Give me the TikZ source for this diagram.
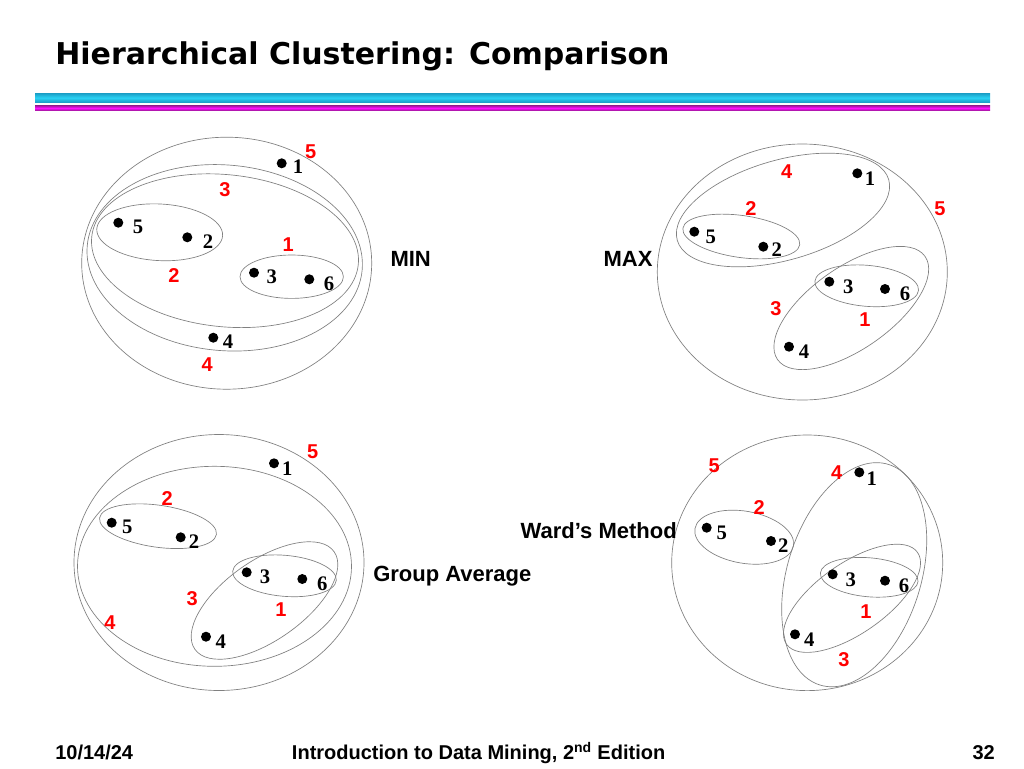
\documentclass[tikz,border=0pt]{standalone}
\usepackage{fontspec}
\setmainfont{Liberation Sans}
\newfontfamily\titlefont{DejaVu Sans}
\newfontfamily\ptfont{Liberation Serif}
\definecolor{barcyan}{HTML}{1A9CC4}
\definecolor{barcyanhi}{HTML}{2AD2F4}
\definecolor{barmag}{HTML}{A0189C}
\definecolor{barmaghi}{HTML}{FF10FF}
\tikzset{
  clus/.style={draw=black!50, line width=0.5pt},
  dot/.style={circle, fill=black, inner sep=0pt, minimum size=7.5pt},
  ptlab/.style={font=\ptfont\bfseries\fontsize{15.5}{16}\selectfont, inner sep=0pt},
  ordlab/.style={text=red, font=\bfseries\fontsize{15}{16}\selectfont, inner sep=0pt},
  method/.style={font=\bfseries\fontsize{16.5}{18}\selectfont, inner sep=0pt},
  foot/.style={font=\bfseries\fontsize{15}{16}\selectfont, inner sep=0pt}
}

\begin{document}
\begin{tikzpicture}[x=0.75pt, y=-0.75pt]
\useasboundingbox (0,0) rectangle (1024,768);
\fill[white] (0,0) rectangle (1024,768);
% title and bars
\node[anchor=base west, inner sep=0pt, font=\titlefont\bfseries\fontsize{22.5}{24}\selectfont] (title) at (55,64) {Hierarchical Clustering: Comparison};
\shade[top color=barcyan, bottom color=barcyan, middle color=barcyanhi] (35,93) rectangle (990,102.5);
\shade[top color=barmag, bottom color=barmag, middle color=barmaghi] (35,105.5) rectangle (990,110.5);

% MIN
\draw[clus, rotate around={-3:(159.7,232.3)}] (159.7,232.3) ellipse (63 and 28.3);
\draw[clus] (291.7,276.7) ellipse (51.7 and 21.7);
\draw[clus, rotate around={-6:(225,250.7)}] (225,250.7) ellipse (134 and 76);
\draw[clus, rotate around={-5:(224.7,257.8)}] (224.7,257.8) ellipse (138 and 92.8);
\draw[clus] (226.7,263.2) ellipse (145 and 126);
\node[dot] (a1) at (281.7,163.3) {};
\node[dot] (a5) at (118.3,222.7) {};
\node[dot] (a2) at (187.3,237.3) {};
\node[dot] (a3) at (254,272.7) {};
\node[dot] (a6) at (309.3,279.3) {};
\node[dot] (a4) at (213.3,337.7) {};
\node[ptlab] (a1l) at (298,167) {1};
\node[ptlab] (a5l) at (138,227) {5};
\node[ptlab] (a2l) at (208,242) {2};
\node[ptlab] (a3l) at (271.7,276.7) {3};
\node[ptlab] (a6l) at (329,284) {6};
\node[ptlab] (a4l) at (228,341.7) {4};
\node[ordlab] (ao5) at (310.7,151.7) {5};
\node[ordlab] (ao3) at (225,189.3) {3};
\node[ordlab] (ao1) at (288.3,245) {1};
\node[ordlab] (ao2) at (174,275.7) {2};
\node[ordlab] (ao4) at (207.3,365) {4};
\node[method, anchor=base] (minlab) at (410.7,266.7) {MIN};

% MAX
\draw[clus, rotate around={-8:(741.3,236.5)}] (741.3,236.5) ellipse (59 and 21);
\draw[clus, rotate around={16:(783,210)}] (783,210) ellipse (110 and 50);
\draw[clus, rotate around={-5:(866.7,285.8)}] (866.7,285.8) ellipse (52 and 20.5);
\draw[clus, rotate around={35:(851.3,308)}] (851.3,308) ellipse (90 and 41);
\draw[clus] (802.3,272) ellipse (145 and 128);
\node[dot] (b1) at (857.3,173.3) {};
\node[dot] (b5) at (694.3,231.7) {};
\node[dot] (b2) at (763.3,246.7) {};
\node[dot] (b3) at (829.3,281.7) {};
\node[dot] (b6) at (885,289) {};
\node[dot] (b4) at (789,346.7) {};
\node[ptlab] (b1l) at (870,178.3) {1};
\node[ptlab] (b5l) at (710.7,236.7) {5};
\node[ptlab] (b2l) at (776.7,250) {2};
\node[ptlab] (b3l) at (848.3,286.7) {3};
\node[ptlab] (b6l) at (905,293.3) {6};
\node[ptlab] (b4l) at (804,351.7) {4};
\node[ordlab] (bo4) at (786.7,171.7) {4};
\node[ordlab] (bo2) at (751,208.3) {2};
\node[ordlab] (bo5) at (940,209) {5};
\node[ordlab] (bo3) at (776,308.3) {3};
\node[ordlab] (bo1) at (865,320) {1};
\node[method, anchor=base] (maxlab) at (628,266.7) {MAX};

% Group Average
\draw[clus, rotate around={-8:(158,526.2)}] (158,526.2) ellipse (59 and 21);
\draw[clus, rotate around={-5:(284.5,575.8)}] (284.5,575.8) ellipse (52 and 20.5);
\draw[clus, rotate around={35:(264.5,600.5)}] (264.5,600.5) ellipse (85 and 40);
\draw[clus] (214.5,566.3) ellipse (137 and 100);
\draw[clus] (219,562.5) ellipse (145 and 128);
\node[dot] (c1) at (274,463.3) {};
\node[dot] (c5) at (111.7,522.7) {};
\node[dot] (c2) at (180.7,537.3) {};
\node[dot] (c3) at (246.7,572.3) {};
\node[dot] (c6) at (302.3,579) {};
\node[dot] (c4) at (206,636.7) {};
\node[ptlab] (c1l) at (287.3,468.3) {1};
\node[ptlab] (c5l) at (127.3,526.7) {5};
\node[ptlab] (c2l) at (194,541.7) {2};
\node[ptlab] (c3l) at (265,576.7) {3};
\node[ptlab] (c6l) at (322.3,584) {6};
\node[ptlab] (c4l) at (220.7,641.7) {4};
\node[ordlab] (co5) at (312.7,451.7) {5};
\node[ordlab] (co2) at (167.3,499) {2};
\node[ordlab] (co3) at (192.3,598.3) {3};
\node[ordlab] (co1) at (281,610) {1};
\node[ordlab] (co4) at (110,622.3) {4};
\node[method, anchor=base west] (grplab) at (373,581.7) {Group Average};

% Ward's Method
\draw[clus, rotate around={-10:(744.2,537.2)}] (744.2,537.2) ellipse (50 and 26);
\draw[clus, rotate around={-5:(869.2,577.3)}] (869.2,577.3) ellipse (49 and 19.5);
\draw[clus, rotate around={35:(852,598.3)}] (852,598.3) ellipse (80 and 35);
\draw[clus, rotate around={72.7:(854.2,574.7)}] (854.2,574.7) ellipse (115.5 and 66.9);
\draw[clus] (807.2,562.8) ellipse (135.5 and 127.8);
\node[dot] (d1) at (859.3,472.3) {};
\node[dot] (d5) at (706.7,527.7) {};
\node[dot] (d2) at (771,541) {};
\node[dot] (d3) at (832.7,574.3) {};
\node[dot] (d6) at (885,580.7) {};
\node[dot] (d4) at (795,634.3) {};
\node[ptlab] (d1l) at (871.7,478.3) {1};
\node[ptlab] (d5l) at (721.7,532.7) {5};
\node[ptlab] (d2l) at (783.3,546) {2};
\node[ptlab] (d3l) at (850.7,579.3) {3};
\node[ptlab] (d6l) at (904,585.7) {6};
\node[ptlab] (d4l) at (809.3,640) {4};
\node[ordlab] (do5) at (714.3,466) {5};
\node[ordlab] (do4) at (836.7,472.3) {4};
\node[ordlab] (do2) at (759.3,507.3) {2};
\node[ordlab] (do1) at (866,611.7) {1};
\node[ordlab] (do3) at (844,660) {3};
\node[method, anchor=base east] (wardlab) at (677,538.3) {Ward’s Method};

% footer
\node[foot, anchor=base west] (date) at (55,759.3) {10/14/24};
\node[foot, anchor=base west] (book) at (291.7,759.3) {Introduction to Data Mining, 2\textsuperscript{nd} Edition};
\node[foot, anchor=base east] (page) at (995,759.3) {32};
\end{tikzpicture}
\end{document}
